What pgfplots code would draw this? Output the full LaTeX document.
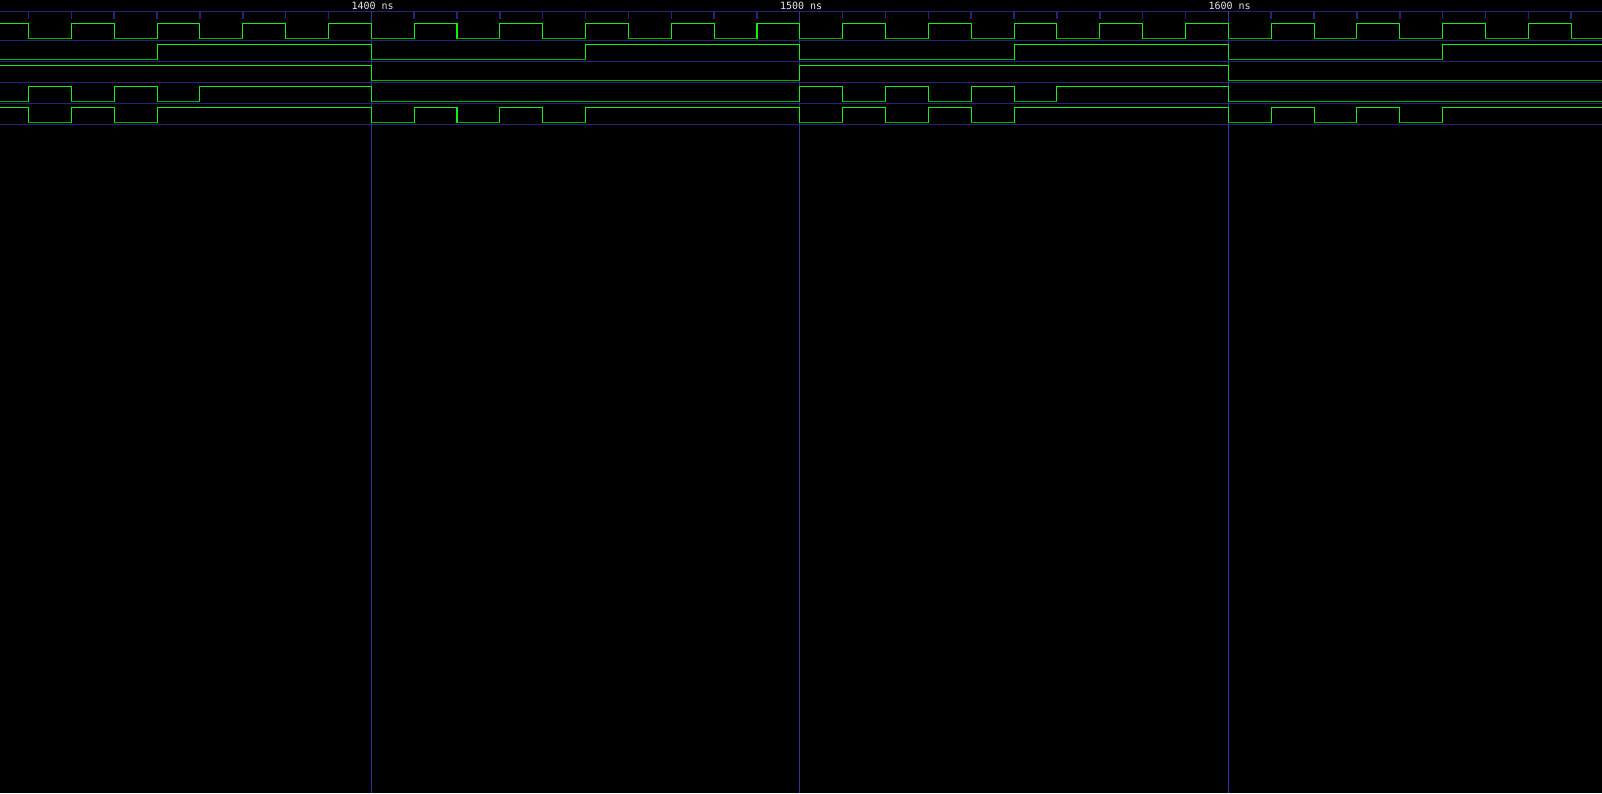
\documentclass[border=0pt]{standalone}
\usepackage{pgfplots}
\pgfplotsset{compat=1.18}
\usepackage{fontspec}
\newfontfamily\wavemono{DejaVu Sans Mono}
\definecolor{hi}{HTML}{12F012}
\definecolor{lo}{HTML}{00B400}
\definecolor{sep}{HTML}{24247E}
\definecolor{vline}{HTML}{33339C}
\definecolor{cursor}{HTML}{3838B4}
\definecolor{txt}{HTML}{E6E6EE}
\begin{document}
\begin{tikzpicture}
\begin{axis}[
  width=801pt, height=396.5pt, scale only axis,
  xmin=1313.35, xmax=1687.2, ymin=0, ymax=793, y dir=reverse,
  axis lines=none, ticks=none,
  axis background/.style={fill=black},
  unbounded coords=jump, clip=true,
  every axis plot/.append style={line width=0.55pt, mark=none},
]
% timeline and row separators
\addplot[sep, line width=0.6pt] coordinates {
 (1313.35,11.3) (1687.2,11.3) (1687.2,nan)
 (1313.35,40.3) (1687.2,40.3) (1687.2,nan)
 (1313.35,61.3) (1687.2,61.3) (1687.2,nan)
 (1313.35,82.3) (1687.2,82.3) (1687.2,nan)
 (1313.35,103.3) (1687.2,103.3) (1687.2,nan)
 (1313.35,124.3) (1687.2,124.3)};
% minor ticks every 10 ns
\addplot[sep, line width=0.75pt] coordinates {
 (1320,11.3) (1320,19.3) (1320,nan)
 (1330,11.3) (1330,19.3) (1330,nan)
 (1340,11.3) (1340,19.3) (1340,nan)
 (1350,11.3) (1350,19.3) (1350,nan)
 (1360,11.3) (1360,19.3) (1360,nan)
 (1370,11.3) (1370,19.3) (1370,nan)
 (1380,11.3) (1380,19.3) (1380,nan)
 (1390,11.3) (1390,19.3) (1390,nan)
 (1410,11.3) (1410,19.3) (1410,nan)
 (1420,11.3) (1420,19.3) (1420,nan)
 (1430,11.3) (1430,19.3) (1430,nan)
 (1440,11.3) (1440,19.3) (1440,nan)
 (1450,11.3) (1450,19.3) (1450,nan)
 (1460,11.3) (1460,19.3) (1460,nan)
 (1470,11.3) (1470,19.3) (1470,nan)
 (1480,11.3) (1480,19.3) (1480,nan)
 (1490,11.3) (1490,19.3) (1490,nan)
 (1510,11.3) (1510,19.3) (1510,nan)
 (1520,11.3) (1520,19.3) (1520,nan)
 (1530,11.3) (1530,19.3) (1530,nan)
 (1540,11.3) (1540,19.3) (1540,nan)
 (1550,11.3) (1550,19.3) (1550,nan)
 (1560,11.3) (1560,19.3) (1560,nan)
 (1570,11.3) (1570,19.3) (1570,nan)
 (1580,11.3) (1580,19.3) (1580,nan)
 (1590,11.3) (1590,19.3) (1590,nan)
 (1610,11.3) (1610,19.3) (1610,nan)
 (1620,11.3) (1620,19.3) (1620,nan)
 (1630,11.3) (1630,19.3) (1630,nan)
 (1640,11.3) (1640,19.3) (1640,nan)
 (1650,11.3) (1650,19.3) (1650,nan)
 (1660,11.3) (1660,19.3) (1660,nan)
 (1670,11.3) (1670,19.3) (1670,nan)
 (1680,11.3) (1680,19.3)};
% major time lines
\addplot[vline, line width=0.6pt] coordinates {
 (1400,11.3) (1400,793) (1400,nan)
 (1500,11.3) (1500,793)};
\addplot[cursor, line width=0.6pt] coordinates {(1600,11.3) (1600,793)};

% ---- signal 1 (clock) H=23.3 L=38.3
\addplot[hi, const plot] coordinates {
 (1313.35,23.3) (1320,38.3) (1330,23.3) (1340,38.3) (1350,23.3) (1360,38.3)
 (1370,23.3) (1380,38.3) (1390,23.3) (1400,38.3) (1410,23.3) (1420,38.3)
 (1430,23.3) (1440,38.3) (1450,23.3) (1460,38.3) (1470,23.3) (1480,38.3)
 (1490,23.3) (1500,38.3) (1510,23.3) (1520,38.3) (1530,23.3) (1540,38.3)
 (1550,23.3) (1560,38.3) (1570,23.3) (1580,38.3) (1590,23.3) (1600,38.3)
 (1610,23.3) (1620,38.3) (1630,23.3) (1640,38.3) (1650,23.3) (1660,38.3)
 (1670,23.3) (1680,38.3) (1687.2,38.3)};
\addplot[lo] coordinates {
 (1320,38.3) (1330,38.3) (1330,nan) (1340,38.3) (1350,38.3) (1350,nan)
 (1360,38.3) (1370,38.3) (1370,nan) (1380,38.3) (1390,38.3) (1390,nan)
 (1400,38.3) (1410,38.3) (1410,nan) (1420,38.3) (1430,38.3) (1430,nan)
 (1440,38.3) (1450,38.3) (1450,nan) (1460,38.3) (1470,38.3) (1470,nan)
 (1480,38.3) (1490,38.3) (1490,nan) (1500,38.3) (1510,38.3) (1510,nan)
 (1520,38.3) (1530,38.3) (1530,nan) (1540,38.3) (1550,38.3) (1550,nan)
 (1560,38.3) (1570,38.3) (1570,nan) (1580,38.3) (1590,38.3) (1590,nan)
 (1600,38.3) (1610,38.3) (1610,nan) (1620,38.3) (1630,38.3) (1630,nan)
 (1640,38.3) (1650,38.3) (1650,nan) (1660,38.3) (1670,38.3) (1670,nan)
 (1680,38.3) (1687.2,38.3)};

% ---- signal 2 H=44.3 L=59.3
\addplot[hi, const plot] coordinates {
 (1313.35,59.3) (1350,44.3) (1400,59.3) (1450,44.3) (1500,59.3)
 (1550,44.3) (1600,59.3) (1650,44.3) (1687.2,44.3)};
\addplot[lo] coordinates {
 (1313.35,59.3) (1350,59.3) (1350,nan) (1400,59.3) (1450,59.3) (1450,nan)
 (1500,59.3) (1550,59.3) (1550,nan) (1600,59.3) (1650,59.3)};

% ---- signal 3 H=65.3 L=80.3
\addplot[hi, const plot] coordinates {
 (1313.35,65.3) (1400,80.3) (1500,65.3) (1600,80.3) (1687.2,80.3)};
\addplot[lo] coordinates {
 (1400,80.3) (1500,80.3) (1500,nan) (1600,80.3) (1687.2,80.3)};

% ---- signal 4 H=86.3 L=101.3
\addplot[hi, const plot] coordinates {
 (1313.35,101.3) (1320,86.3) (1330,101.3) (1340,86.3) (1350,101.3) (1360,86.3)
 (1400,101.3) (1500,86.3) (1510,101.3) (1520,86.3) (1530,101.3) (1540,86.3)
 (1550,101.3) (1560,86.3) (1600,101.3) (1687.2,101.3)};
\addplot[lo] coordinates {
 (1313.35,101.3) (1320,101.3) (1320,nan) (1330,101.3) (1340,101.3) (1340,nan)
 (1350,101.3) (1360,101.3) (1360,nan) (1400,101.3) (1500,101.3) (1500,nan)
 (1510,101.3) (1520,101.3) (1520,nan) (1530,101.3) (1540,101.3) (1540,nan)
 (1550,101.3) (1560,101.3) (1560,nan) (1600,101.3) (1687.2,101.3)};

% ---- signal 5 H=107.3 L=122.3
\addplot[hi, const plot] coordinates {
 (1313.35,107.3) (1320,122.3) (1330,107.3) (1340,122.3) (1350,107.3)
 (1400,122.3) (1410,107.3) (1420,122.3) (1430,107.3) (1440,122.3) (1450,107.3)
 (1500,122.3) (1510,107.3) (1520,122.3) (1530,107.3) (1540,122.3) (1550,107.3)
 (1600,122.3) (1610,107.3) (1620,122.3) (1630,107.3) (1640,122.3) (1650,107.3)
 (1687.2,107.3)};
\addplot[lo] coordinates {
 (1320,122.3) (1330,122.3) (1330,nan) (1340,122.3) (1350,122.3) (1350,nan)
 (1400,122.3) (1410,122.3) (1410,nan) (1420,122.3) (1430,122.3) (1430,nan)
 (1440,122.3) (1450,122.3) (1450,nan) (1500,122.3) (1510,122.3) (1510,nan)
 (1520,122.3) (1530,122.3) (1530,nan) (1540,122.3) (1550,122.3) (1550,nan)
 (1600,122.3) (1610,122.3) (1610,nan) (1620,122.3) (1630,122.3) (1630,nan)
 (1640,122.3) (1650,122.3)};

% time labels
\node[txt, font=\wavemono\fontsize{5}{6}\selectfont, inner sep=0pt] at (axis cs:1400.3,5.7) {1400 ns};
\node[txt, font=\wavemono\fontsize{5}{6}\selectfont, inner sep=0pt] at (axis cs:1500.3,5.7) {1500 ns};
\node[txt, font=\wavemono\fontsize{5}{6}\selectfont, inner sep=0pt] at (axis cs:1600.3,5.7) {1600 ns};
\end{axis}
\end{tikzpicture}
\end{document}
